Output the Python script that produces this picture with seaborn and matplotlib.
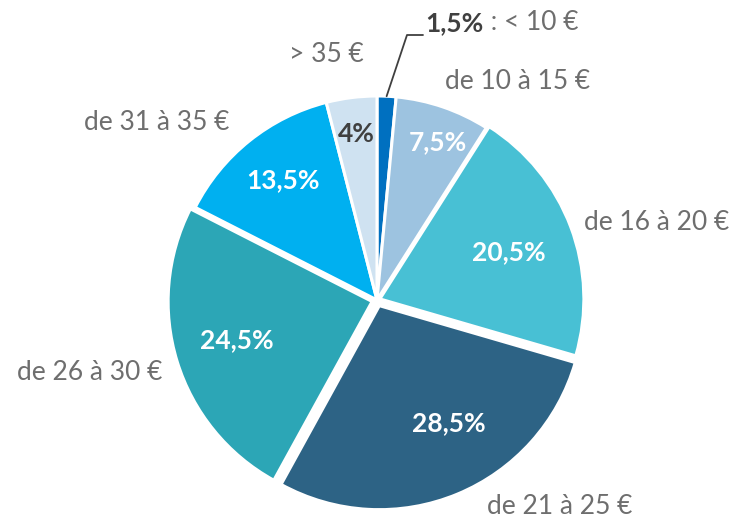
import numpy as np
import matplotlib
matplotlib.use("Agg")
import matplotlib.pyplot as plt
import seaborn as sns

# Budget categories and shares (%)
categories = ["< 10 €", "de 10 à 15 €", "de 16 à 20 €", "de 21 à 25 €",
              "de 26 à 30 €", "de 31 à 35 €", "> 35 €"]
shares = [1.5, 7.5, 20.5, 28.5, 24.5, 13.5, 4]
pct_labels = ["1,5%", "7,5%", "20,5%", "28,5%", "24,5%", "13,5%", "4%"]
colors = ["#0070C0", "#9DC3E0", "#48C0D4", "#2D6385", "#2CA6B6", "#00B0F0", "#CFE2F1"]

sns.set_theme(style="white")
plt.rcParams["font.family"] = ["Lato", "DejaVu Sans"]

fig = plt.figure(figsize=(7.36, 5.18), dpi=100)
ax = fig.add_axes([0, 0, 1, 1])

cx, cy, R = 377, 300, 204  # pixel layout of the pie

explode = [0, 0, 0.015, 0.03, 0.025, 0, 0]
wedges, _ = ax.pie(shares, colors=sns.color_palette(colors), startangle=90,
                   counterclock=False, radius=1, explode=explode,
                   wedgeprops=dict(edgecolor="white", linewidth=2.2))

# pie() resets the limits, so set them afterwards
ax.set_xlim(-cx / R, (736 - cx) / R)
ax.set_ylim(-(518 - cy) / R, cy / R)
ax.set_aspect("equal")
ax.axis("off")

gray = "#6E6E6E"
dark = "#404040"
fs = 19

# percentage labels inside slices (pixel offsets from pie center)
inner_pos = [None, (61, 158), (132, 48), (72, -123), (-140, -40), (-94, 120), (-21, 166)]
for i, lab in enumerate(pct_labels):
    if inner_pos[i] is None:
        continue
    dx, dy = inner_pos[i]
    c = dark if i == 6 else "white"
    ax.text(dx / R, dy / R, lab, ha="center", va="center",
            fontsize=fs, fontweight="bold", color=c)

# outer category labels (pixel offsets from pie center)
outer_pos = [None, (141, 218), (280, 78), (183, -206), (-287, -72), (-220, 177), (-51, 245)]
for i, lab in enumerate(categories):
    if outer_pos[i] is None:
        continue
    dx, dy = outer_pos[i]
    ax.text(dx / R, dy / R, lab, ha="center", va="center", fontsize=fs, color=gray)

# smallest slice: leader line with label
w0 = wedges[0]
a0 = np.deg2rad((w0.theta1 + w0.theta2) / 2)
p0 = (np.cos(a0), np.sin(a0))
ax.plot([p0[0], 30 / R, 46 / R], [p0[1], 265 / R, 265 / R], color="#404040", lw=1.3)
ax.text(48 / R, 277 / R, pct_labels[0], ha="left", va="center",
        fontsize=fs, fontweight="bold", color=dark)
ax.text(107 / R, 277 / R, " : " + categories[0], ha="left", va="center",
        fontsize=fs, color=gray)

fig.savefig("out.png", dpi=100)
